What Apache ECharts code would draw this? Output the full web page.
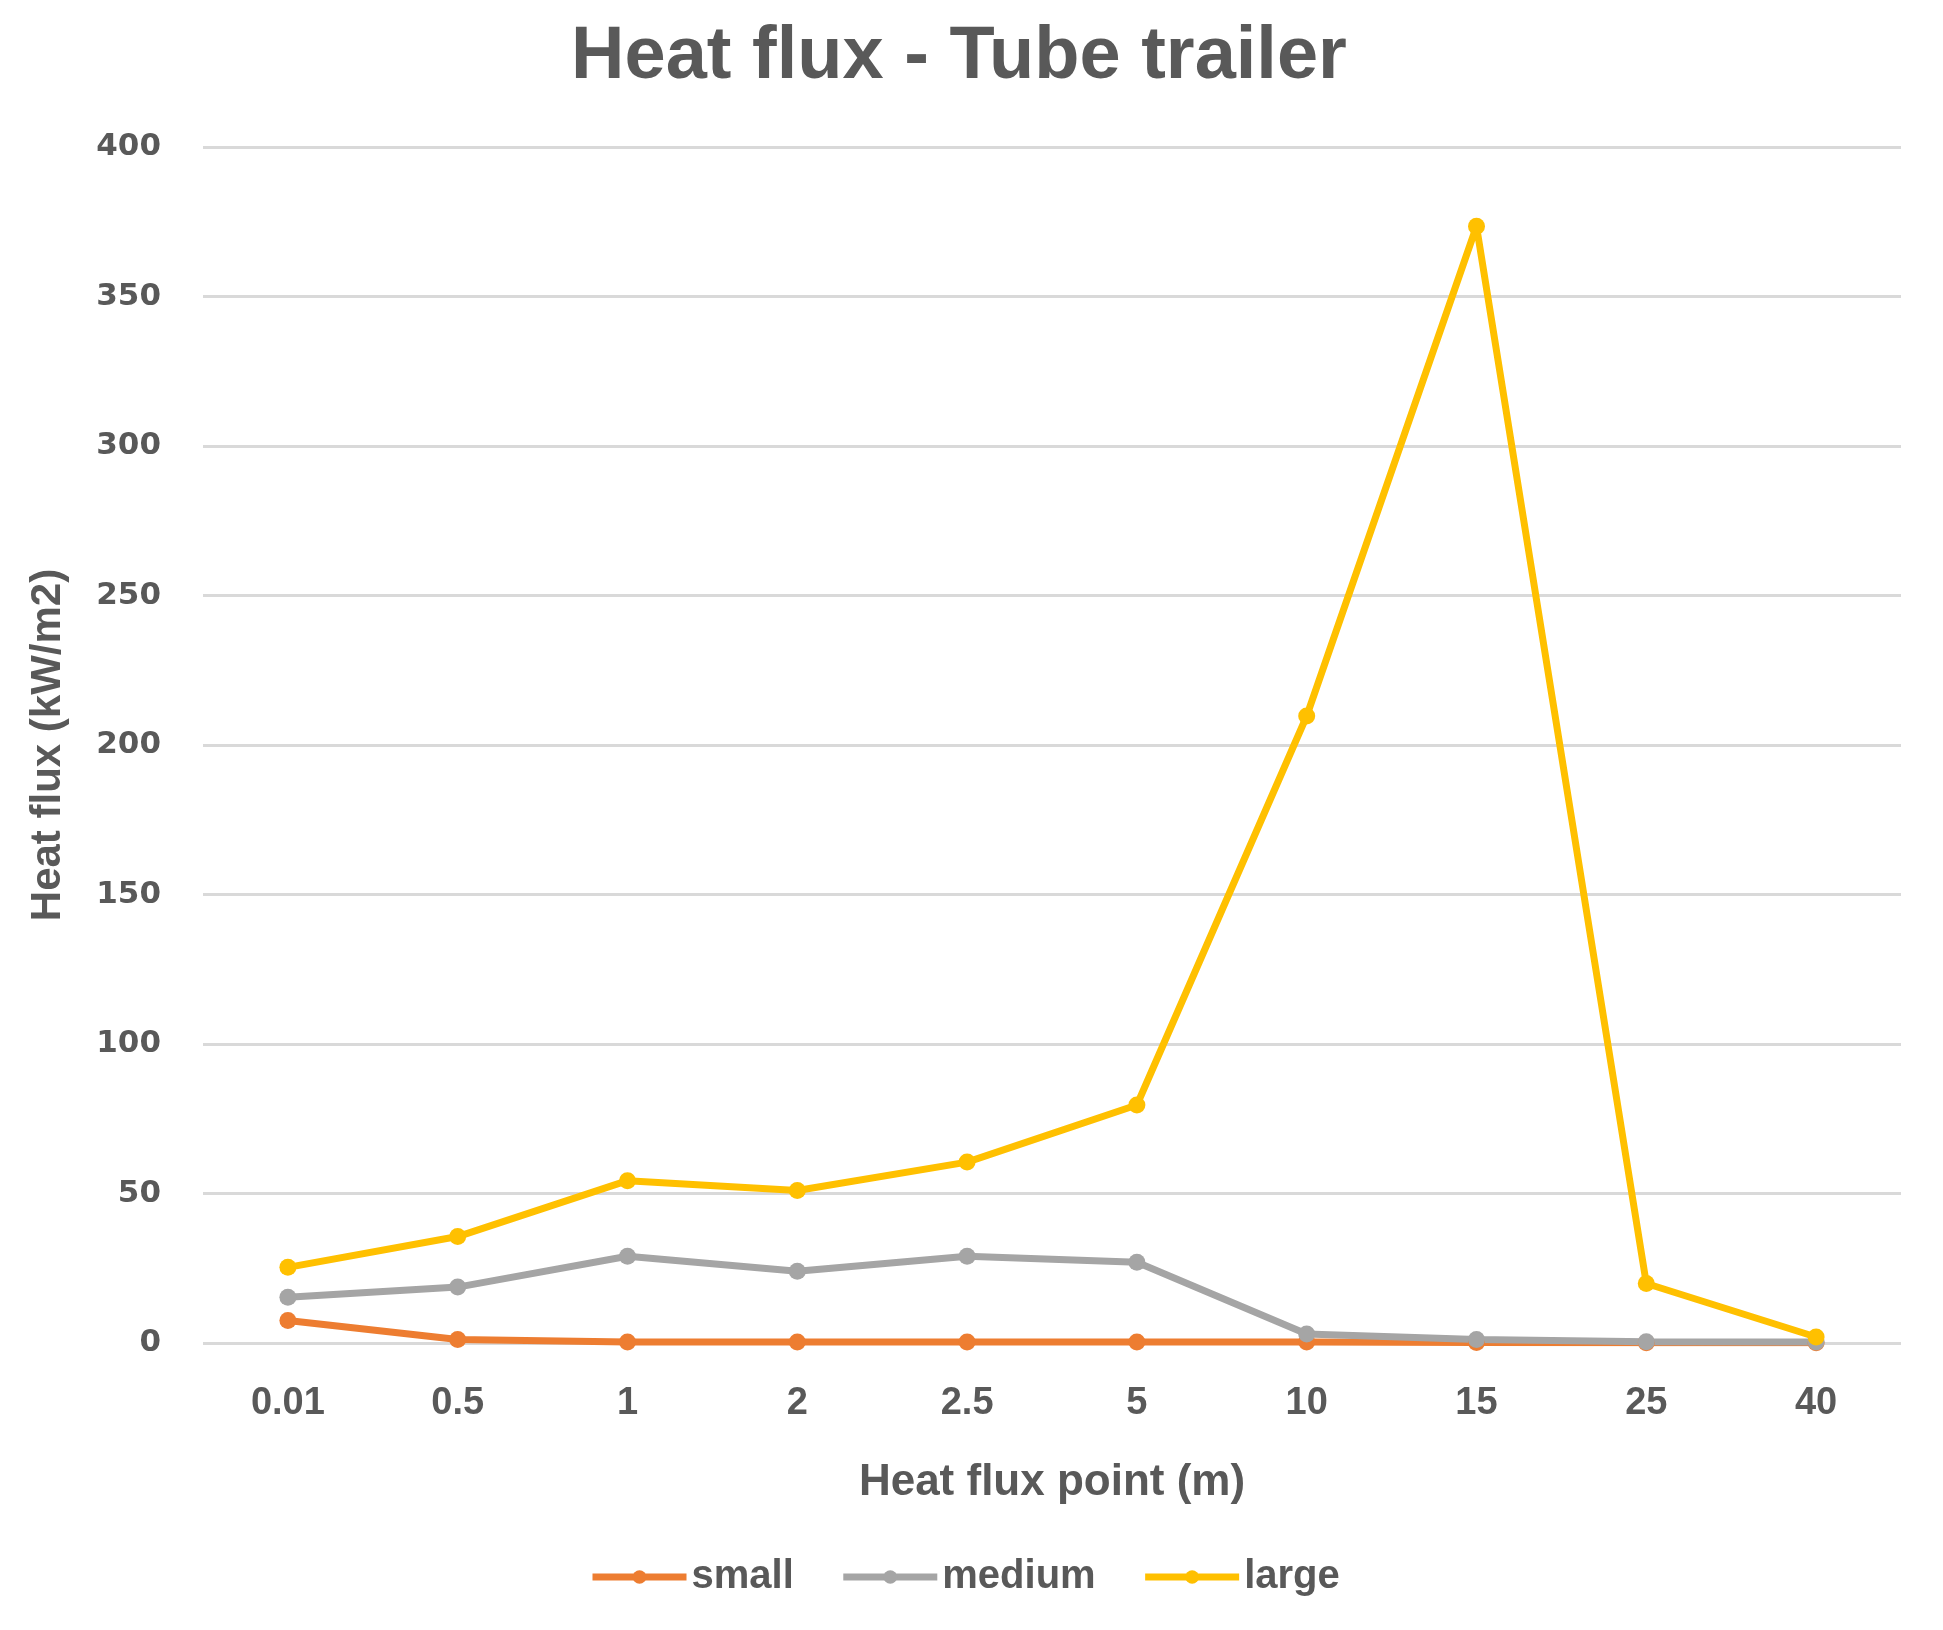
<!DOCTYPE html>
<html>
<head>
<meta charset="utf-8">
<script src="https://cdn.jsdelivr.net/npm/echarts@6/dist/echarts.min.js"></script>
<style>
  html, body { margin: 0; padding: 0; background: #fff; }
  #chart { width: 1943px; height: 1630px; }
</style>
</head>
<body>
<div id="chart"></div>
<script>
// categories: heat flux point (m)
const distances = ['0.01', '0.5', '1', '2', '2.5', '5', '10', '15', '25', '40']

// heat flux (kW/m2) per leak size
const small = [7.5, 1.2, 0.3, 0.3, 0.3, 0.3, 0.3, 0.2, 0.1, 0.1]
const medium = [15.3, 18.7, 29, 24, 29, 27, 3, 1.2, 0.4, 0.3]
const large = [25.3, 35.6, 54.3, 51, 60.5, 79.6, 209.7, 373.5, 19.9, 2]

const textColor = '#595959'
const narrow = '"Liberation Sans Narrow", "Liberation Sans", sans-serif'

const chart = echarts.init(document.getElementById('chart'))

function lineSeries(name, data, color) {
  return {
    name,
    type: 'line',
    data,
    symbol: 'circle',
    symbolSize: 17,
    lineStyle: { width: 7, color },
    itemStyle: { color },
  }
}

chart.setOption({
  animation: false,
  title: {
    text: 'Heat flux - Tube trailer',
    left: 954,
    textAlign: 'center',
    top: 16,
    textStyle: {
      fontFamily: narrow,
      fontSize: 74,
      fontWeight: 'bold',
      color: textColor,
    },
  },
  legend: {
    bottom: 28,
    left: 584,
    itemWidth: 94,
    itemHeight: 17,
    itemGap: 46,
    lineStyle: { width: 7 },
    textStyle: {
      fontFamily: narrow,
      fontSize: 40,
      fontWeight: 'bold',
      color: textColor,
    },
  },
  grid: {
    left: 203,
    right: 42,
    top: 147,
    bottom: 287,
  },
  xAxis: {
    type: 'category',
    data: distances,
    name: 'Heat flux point (m)',
    nameLocation: 'middle',
    nameGap: 118,
    nameTextStyle: {
      fontFamily: narrow,
      fontSize: 44,
      fontWeight: 'bold',
      color: textColor,
    },
    axisLine: { show: false },
    axisTick: { show: false },
    axisLabel: {
      margin: 42,
      fontFamily: narrow,
      fontSize: 38,
      fontWeight: 'bold',
      color: textColor,
    },
  },
  yAxis: {
    type: 'value',
    min: 0,
    max: 400,
    interval: 50,
    name: 'Heat flux (kW/m2)',
    nameLocation: 'middle',
    nameGap: 134,
    nameTextStyle: {
      fontFamily: narrow,
      fontSize: 42,
      fontWeight: 'bold',
      color: textColor,
    },
    axisLine: { show: false },
    axisTick: { show: false },
    axisLabel: {
      margin: 42,
      fontFamily: '"DejaVu Sans", sans-serif',
      fontSize: 31,
      fontWeight: 'bold',
      color: textColor,
    },
    splitLine: {
      lineStyle: { color: '#d9d9d9', width: 3 },
    },
  },
  series: [
    lineSeries('small', small, '#ed7d31'),
    lineSeries('medium', medium, '#a5a5a5'),
    lineSeries('large', large, '#ffc000'),
  ],
})
</script>
</body>
</html>
